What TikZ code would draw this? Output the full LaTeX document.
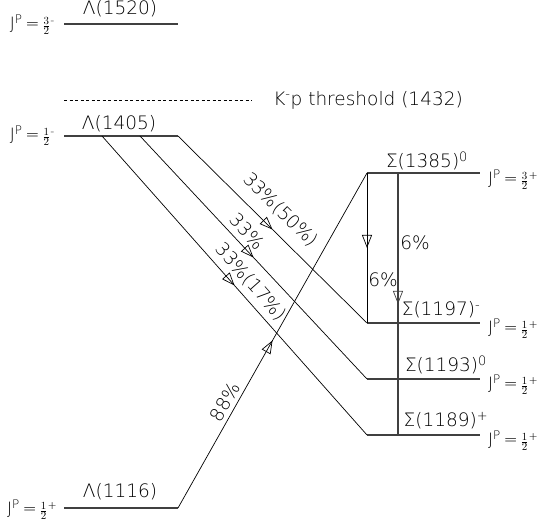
\documentclass[tikz,border=0pt]{standalone}
\usepackage{fontspec}
\setmainfont{DejaVu Sans ExtraLight}
\usetikzlibrary{arrows.meta, decorations.markings}

\newcommand{\jp}[2]{J\textsuperscript{P}\,=\,{\fontsize{15}{16}\selectfont$\frac{#1}{2}$}{\fontsize{11}{11}\selectfont\raisebox{5pt}{#2}}}

\begin{document}
\begin{tikzpicture}[x=1pt, y=-1pt, line width=0.7pt,
    level/.style={line width=1.2pt, black!75},
    decay/.style={postaction={decorate}, decoration={markings,
        mark=at position 0.5 with {\arrow{Triangle[open, length=13pt, width=10pt, line width=0.7pt]}}}},
    lab/.style={font=\fontsize{18.5}{20}\selectfont, inner sep=1pt},
    jp/.style={font=\fontsize{17}{18}\selectfont, inner sep=1pt}]
    \useasboundingbox (0,0) rectangle (542,524);
    % Lambda levels
    \coordinate (l1520a) at (64,24);  \coordinate (l1520b) at (178,24);
    \coordinate (l1405a) at (64,136); \coordinate (l1405b) at (178,136);
    \coordinate (l1116a) at (64,508); \coordinate (l1116b) at (178,508);
    \coordinate (d1) at (102,136); \coordinate (d2) at (140,136);
    \draw[level] (l1520a) -- (l1520b);
    \draw[level] (l1405a) -- (l1405b);
    \draw[level] (l1116a) -- (l1116b);
    \node[lab] (t1520) at (120,9) {Λ(1520)};
    \node[lab] (t1405) at (119,124) {Λ(1405)};
    \node[lab] (t1116) at (120,492) {Λ(1116)};
    \node[jp] (j1520) at (32,25) {\jp{3}{-}};
    \node[jp] (j1405) at (32,136) {\jp{1}{-}};
    \node[jp] (j1116) at (32,510) {\jp{1}{+}};
    % threshold
    \coordinate (tha) at (64,100); \coordinate (thb) at (252,100);
    \draw[dash pattern=on 3pt off 2.5pt] (tha) -- (thb);
    \node[lab, anchor=west] (tth) at (272,100) {K\textsuperscript{-}p threshold (1432)};
    % Sigma levels
    \coordinate (s1385a) at (367,173); \coordinate (s1385b) at (480,173);
    \coordinate (s1197a) at (367,323); \coordinate (s1197b) at (480,323);
    \coordinate (s1193a) at (367,379); \coordinate (s1193b) at (480,379);
    \coordinate (s1189a) at (367,435); \coordinate (s1189b) at (480,435);
    \coordinate (v1) at (398,173); \coordinate (v2) at (398,435);
    \draw[level] (s1385a) -- (s1385b);
    \draw[level] (s1197a) -- (s1197b);
    \draw[level] (s1193a) -- (s1193b);
    \draw[level] (s1189a) -- (s1189b);
    \node[lab] (t1385) at (427,161) {Σ(1385)\textsuperscript{0}};
    \node[lab] (t1197) at (441,310) {Σ(1197)\textsuperscript{-}};
    \node[lab] (t1193) at (446,365) {Σ(1193)\textsuperscript{0}};
    \node[lab] (t1189) at (446,421) {Σ(1189)\textsuperscript{+}};
    \node[jp] (j1385) at (513,180) {\jp{3}{+}};
    \node[jp] (j1197) at (513,329) {\jp{1}{+}};
    \node[jp] (j1193) at (513,385) {\jp{1}{+}};
    \node[jp] (j1189) at (513,441) {\jp{1}{+}};
    % decays
    \draw[decay] (l1405b) -- (s1197a) node[lab, pos=0.47, sloped, above=10pt] {33\%(50\%)};
    \draw[decay] (d2) -- (s1193a) node[lab, pos=0.43, sloped, above=5pt] {33\%};
    \draw[decay] (d1) -- (s1189a) node[lab, pos=0.52, sloped, above=5pt] {33\%(17\%)};
    \draw[decay] (l1116b) -- (s1385a) node[lab, pos=0.30, sloped, above=3pt] {88\%};
    \draw[decay] (s1385a) -- (s1197a);
    \draw[level, decay] (v1) -- (v2);
    \node[lab] (p6a) at (383,280) {6\%};
    \node[lab] (p6b) at (415,243) {6\%};
\end{tikzpicture}
\end{document}
